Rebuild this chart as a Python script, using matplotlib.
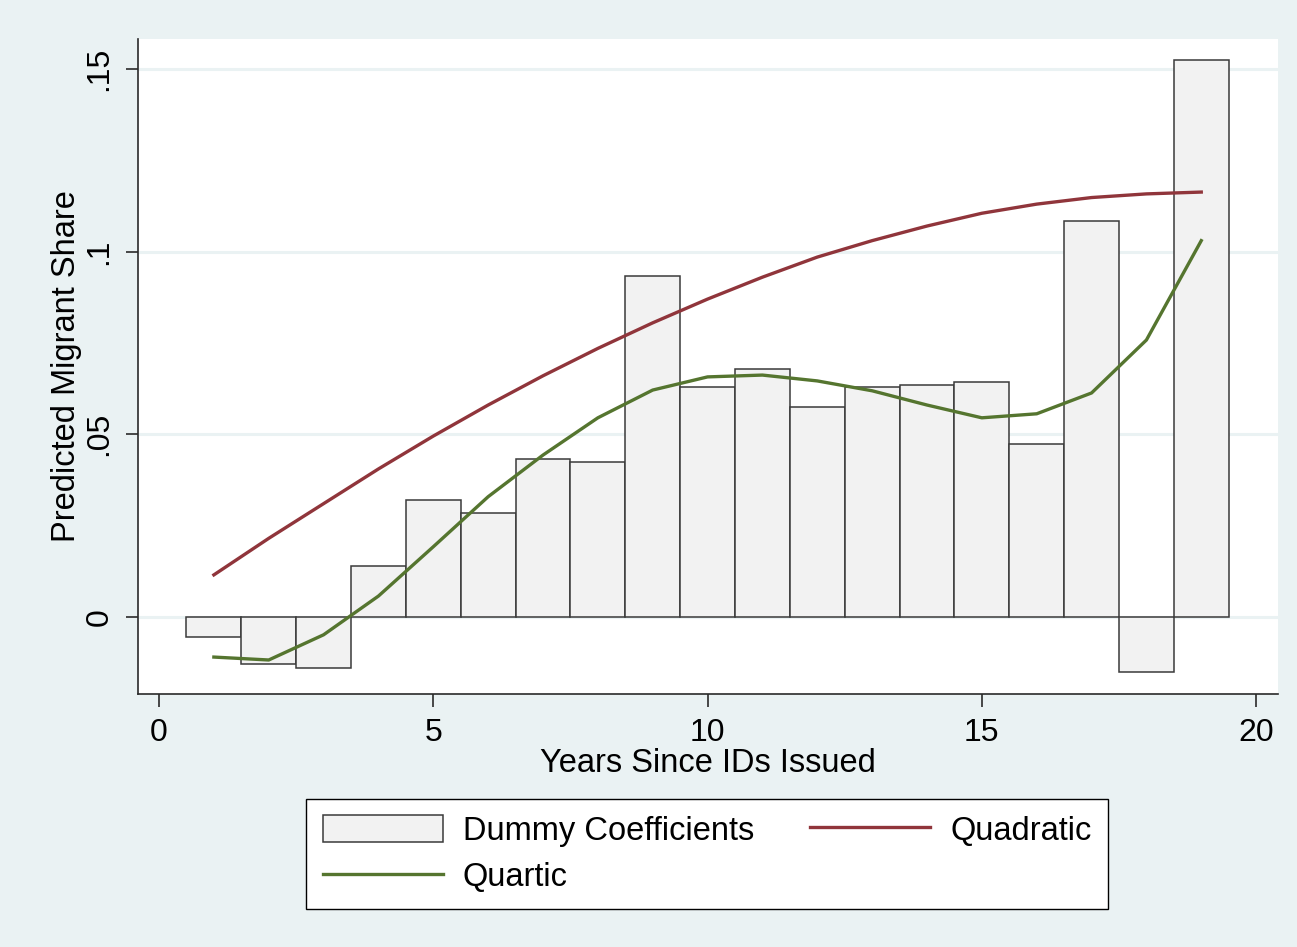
import matplotlib.pyplot as plt
import numpy as np

plt.rcParams["font.family"] = ["Liberation Sans", "DejaVu Sans"]

# years since IDs issued (bar centres) and the estimated coefficients
YEARS = np.arange(1, 20)
DUMMY = [-0.0055, -0.0129, -0.0140, 0.0140, 0.0320, 0.0285, 0.0432, 0.0424, 0.0933,
         0.0630, 0.0679, 0.0575, 0.0630, 0.0635, 0.0643, 0.0474, 0.1084, -0.0150, 0.1525]

# fitted values of the polynomial specifications
QUADRATIC = [0.0115, 0.0215, 0.0310, 0.0405, 0.0495, 0.0580, 0.0660, 0.0735, 0.0805,
             0.0870, 0.0930, 0.0985, 0.1030, 0.1070, 0.1105, 0.1130, 0.1148, 0.1158, 0.1163]
QUARTIC = [-0.0110, -0.0118, -0.0049, 0.0057, 0.0192, 0.0329, 0.0443, 0.0545, 0.0621,
           0.0657, 0.0662, 0.0646, 0.0619, 0.0580, 0.0545, 0.0556, 0.0613, 0.0758, 0.1030]

X_TICKS = [0, 5, 10, 15, 20]
Y_TICKS = [0, 0.05, 0.10, 0.15]
Y_TICK_LABELS = ["0", ".05", ".1", ".15"]

BG = "#EAF2F3"
MAROON = "#90353B"
GREEN = "#55752F"

fig = plt.figure(figsize=(12.97, 9.47), dpi=100, facecolor=BG)
ax = fig.add_axes([0.1064, 0.2672, 0.879, 0.6916])
ax.set_facecolor("white")

# grid lines behind everything
for yv in Y_TICKS:
    ax.axhline(yv, color=BG, linewidth=2.2, zorder=0)

bars = ax.bar(YEARS, DUMMY, width=1.0, color="#F2F2F2", edgecolor="#3a3a3a",
              linewidth=1.1, zorder=2, label="Dummy Coefficients")
quad, = ax.plot(YEARS, QUADRATIC, color=MAROON, linewidth=2.4, zorder=3, label="Quadratic")
quart, = ax.plot(YEARS, QUARTIC, color=GREEN, linewidth=2.4, zorder=3, label="Quartic")

ax.set_xlim(-0.383, 20.4)
ax.set_ylim(-0.0211, 0.1582)
ax.set_xticks(X_TICKS)
ax.set_yticks(Y_TICKS)
ax.set_yticklabels(Y_TICK_LABELS, rotation=90, va="center")

for side in ["top", "right"]:
    ax.spines[side].set_visible(False)
for side in ["left", "bottom"]:
    ax.spines[side].set_color("#2a2a2a")
    ax.spines[side].set_linewidth(1.2)

ax.tick_params(axis="both", direction="out", length=9, width=1.2, color="#2a2a2a",
               labelsize=23, pad=8)
ax.set_xlabel("Years Since IDs Issued", fontsize=23.5, labelpad=0)
ax.set_ylabel("Predicted Migrant Share", fontsize=23.5, labelpad=2)

# handles ordered so the two columns read row by row like the original
leg = fig.legend([bars, quart, quad], ["Dummy Coefficients", "Quartic", "Quadratic"],
                 loc="center", bbox_to_anchor=(0.5451, 0.0982), ncol=2,
                 fontsize=23.5, frameon=True, fancybox=False, edgecolor="black",
                 framealpha=1.0, handlelength=3.7, handleheight=0.9, handletextpad=0.6,
                 columnspacing=1.7, labelspacing=0.45, borderpad=0.5)
leg.get_frame().set_linewidth(1.0)
leg.get_frame().set_facecolor("white")

fig.savefig("out.png", dpi=100, facecolor=BG)
